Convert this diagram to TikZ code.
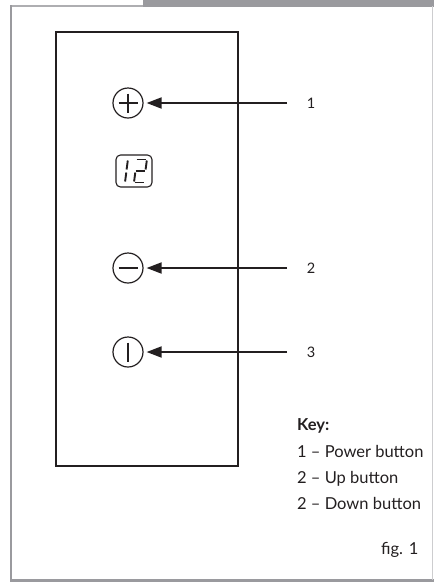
\documentclass[tikz,border=0pt]{standalone}
\usepackage{fontspec}
\setmainfont{Lato}
\usetikzlibrary{arrows.meta,calc}
\definecolor{framegray}{HTML}{9A9A9E}
\definecolor{ink}{HTML}{231F20}
\tikzset{
  btn/.style={circle,draw=ink,line width=1.2pt,minimum size=30pt,inner sep=0pt},
  pointer/.style={draw=ink,line width=1.8pt,-{Triangle[length=15pt,width=11pt]}},
  lbl/.style={font=\fontsize{14.5}{16}\selectfont,text=ink,inner sep=0pt,anchor=base},
  keytxt/.style={font=\fontsize{16.5}{19}\selectfont,text=ink,anchor=base west,inner sep=0pt},
  seg/.style={line width=1.9pt,draw=ink,line cap=butt}
}
\begin{document}
\begin{tikzpicture}[x=1pt,y=-1pt]
\useasboundingbox (0,0) rectangle (434,582);
% frame
\fill[framegray] (143,0) rectangle (434,6.5);
\draw[framegray!80,line width=2pt] (10,5.5) -- (143,5.5);
\draw[framegray,line width=2.6pt] (11,5) -- (11,580.5);
\draw[framegray,line width=2.2pt] (10,580.5) -- (434,580.5);
\draw[framegray!50,line width=0.8pt] (432.5,6) -- (432.5,580);
% panel
\node[draw=ink,line width=2.2pt,minimum width=182pt,minimum height=434pt,inner sep=0pt] (panel) at (147,249) {};
% buttons
\node[btn] (plus) at (128,103) {};
\draw[ink,line width=1.1pt] ($(plus.center)+(-9.5,0)$) -- ($(plus.center)+(9.5,0)$);
\draw[ink,line width=1.1pt] ($(plus.center)+(0,-9.5)$) -- ($(plus.center)+(0,9.5)$);
\node[btn] (minus) at (128,268) {};
\draw[ink,line width=1.1pt] ($(minus.center)+(-9.5,0)$) -- ($(minus.center)+(9.5,0)$);
\node[btn] (power) at (128,352) {};
\draw[ink,line width=1.1pt] ($(power.center)+(0,-9.5)$) -- ($(power.center)+(0,9.5)$);
% display
\node[draw=ink,line width=1.1pt,rounded corners=4.5pt,minimum width=36pt,minimum height=32pt,inner sep=0pt] (disp) at (134,171) {};
% digit 1
\draw[seg] (127.8,160.5) -- (126.6,169.5);
\draw[seg] (126.3,172.5) -- (125.1,181.5);
% digit 2
\draw[seg] (136.5,159.5) -- (145.5,159.5);
\draw[seg] (146.8,160.5) -- (145.6,169.5);
\draw[seg] (135.5,171) -- (144.5,171);
\draw[seg] (135.3,172.5) -- (134.1,181.5);
\draw[seg] (134.5,182.5) -- (143.5,182.5);
% labels and arrows
\node[lbl] (l1) at (311,108.5) {1};
\node[lbl] (l2) at (311,273.5) {2};
\node[lbl] (l3) at (311,357.5) {3};
\coordinate (a1) at (287,103);
\coordinate (a2) at (287,268);
\coordinate (a3) at (287,352);
\draw[pointer] (a1) -- ($(plus.east)+(3,0)$);
\draw[pointer] (a2) -- ($(minus.east)+(3,0)$);
\draw[pointer] (a3) -- ($(power.east)+(3,0)$);
% key
\node[keytxt,font=\fontsize{16.5}{19}\selectfont\bfseries] (key) at (297,430) {Key:};
\node[keytxt] (k1) at (297,457) {1 – Power button};
\node[keytxt] (k2) at (297,483) {2 – Up button};
\node[keytxt] (k3) at (297,509) {2 – Down button};
\node[keytxt] (fig) at (381,554) {fig. 1};
\end{tikzpicture}
\end{document}
